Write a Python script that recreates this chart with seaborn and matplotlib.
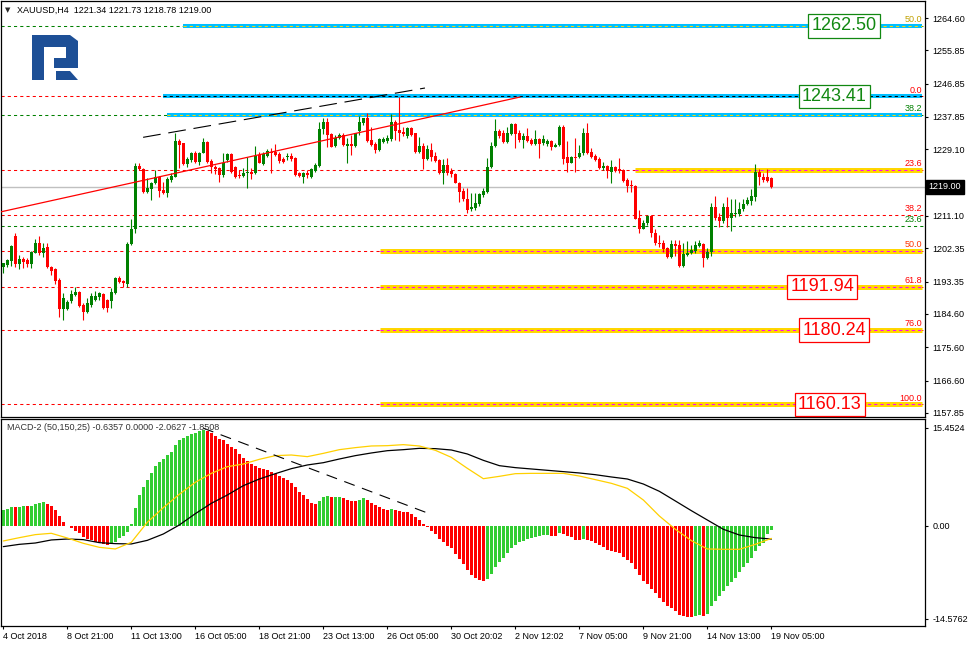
import numpy as np
import matplotlib
matplotlib.use("Agg")
import matplotlib.pyplot as plt
import matplotlib.transforms as mtransforms
from matplotlib.patches import Polygon
import seaborn as sns

# ---------------- data (XAUUSD H4) ----------------
candle_open = [
    1197.4, 1197.8, 1199.0, 1205.7, 1198.1, 1199.4, 1199.2, 1198.1, 1201.2, 1203.7,
    1201.2, 1202.6, 1197.4, 1196.7, 1193.8, 1185.9, 1186.0, 1188.2, 1189.7, 1190.6,
    1187.0, 1185.0, 1187.0, 1188.4, 1189.3, 1190.0, 1188.4, 1188.2, 1190.4, 1194.2,
    1193.5, 1192.6, 1203.5, 1207.5, 1224.6, 1223.7, 1217.7, 1218.3, 1220.1, 1221.5,
    1218.1, 1217.2, 1220.8, 1221.7, 1231.4, 1230.7, 1225.1, 1226.2, 1228.0, 1225.8,
    1228.2, 1231.1, 1226.0, 1224.4, 1224.0, 1222.2, 1226.2, 1227.8, 1224.4, 1222.2,
    1221.9, 1222.8, 1223.1, 1222.6, 1227.6, 1225.1, 1227.3, 1228.5, 1228.5, 1227.8,
    1226.4, 1226.9, 1227.3, 1226.7, 1222.6, 1221.5, 1222.6, 1221.5, 1223.3, 1224.6,
    1234.5, 1236.6, 1233.2, 1230.0, 1232.3, 1233.0, 1230.0, 1230.5, 1230.0, 1234.1,
    1236.1, 1237.7, 1231.6, 1230.5, 1228.9, 1231.2, 1231.4, 1231.8, 1236.6, 1234.3,
    1233.9, 1232.7, 1234.8, 1233.4, 1228.5, 1230.0, 1226.4, 1228.9, 1227.3, 1226.2,
    1222.8, 1224.9, 1223.3, 1222.4, 1220.1, 1217.9, 1215.8, 1212.9, 1213.2, 1214.3,
    1216.7, 1217.7, 1224.2, 1230.0, 1234.1, 1233.4, 1231.2, 1233.2, 1235.9, 1233.4,
    1231.6, 1232.7, 1231.6, 1230.5, 1231.8, 1230.7, 1230.5, 1231.4, 1229.8, 1230.3,
    1235.2, 1226.9, 1225.5, 1226.9, 1226.9, 1228.0, 1233.6, 1228.5, 1227.3, 1226.4,
    1224.0, 1224.6, 1223.1, 1224.2, 1223.7, 1223.5, 1220.8, 1219.4, 1219.2, 1210.5,
    1207.7, 1209.1, 1211.1, 1206.6, 1203.9, 1203.7, 1202.3, 1199.9, 1203.5, 1203.2,
    1197.6, 1200.5, 1201.0, 1201.7, 1203.0, 1203.5, 1199.6, 1201.4, 1213.6, 1210.9,
    1209.8, 1213.6, 1210.5, 1211.6, 1211.6, 1212.9, 1214.3, 1215.2, 1216.3, 1223.1,
    1221.7, 1221.5, 1221.34,
]
candle_high = [
    1198.5, 1199.4, 1203.2, 1206.4, 1200.5, 1200.1, 1199.6, 1201.7, 1205.0, 1205.7,
    1203.7, 1203.7, 1197.6, 1196.9, 1194.2, 1190.2, 1188.5, 1191.1, 1191.8, 1190.9,
    1187.6, 1188.8, 1190.2, 1190.9, 1190.6, 1190.4, 1188.6, 1191.5, 1194.7, 1194.9,
    1193.8, 1204.1, 1210.2, 1225.3, 1225.3, 1224.0, 1221.3, 1220.4, 1223.5, 1221.9,
    1220.4, 1221.7, 1222.6, 1233.4, 1231.8, 1230.9, 1227.1, 1228.5, 1228.7, 1228.5,
    1232.1, 1231.3, 1226.4, 1224.9, 1224.4, 1228.0, 1228.2, 1228.0, 1224.5, 1223.5,
    1224.0, 1227.1, 1224.0, 1230.0, 1228.5, 1228.5, 1229.1, 1229.4, 1230.5, 1228.5,
    1226.9, 1228.0, 1228.0, 1226.9, 1223.1, 1223.1, 1223.5, 1224.0, 1225.3, 1236.6,
    1237.5, 1237.5, 1233.6, 1233.0, 1233.6, 1233.4, 1232.1, 1233.0, 1233.6, 1238.1,
    1237.7, 1239.0, 1235.2, 1231.2, 1232.1, 1232.5, 1233.0, 1238.7, 1237.0, 1243.3,
    1235.2, 1235.2, 1235.2, 1233.6, 1232.5, 1230.7, 1230.3, 1230.7, 1228.5, 1226.4,
    1226.4, 1226.7, 1224.0, 1222.6, 1220.4, 1218.6, 1218.6, 1217.2, 1217.2, 1217.2,
    1218.6, 1226.7, 1231.2, 1237.2, 1234.5, 1234.3, 1235.2, 1236.3, 1236.3, 1234.3,
    1233.4, 1234.8, 1232.1, 1234.3, 1232.1, 1233.0, 1231.8, 1231.6, 1230.9, 1235.7,
    1235.7, 1231.4, 1227.3, 1232.3, 1230.3, 1235.0, 1236.3, 1229.4, 1227.8, 1226.9,
    1225.8, 1224.9, 1226.2, 1224.6, 1226.7, 1223.7, 1221.3, 1220.8, 1219.5, 1212.7,
    1210.0, 1211.4, 1211.4, 1207.7, 1205.9, 1204.6, 1202.8, 1204.6, 1204.6, 1204.6,
    1203.7, 1204.4, 1203.2, 1204.4, 1204.6, 1203.7, 1202.3, 1214.7, 1216.5, 1211.8,
    1214.5, 1216.1, 1215.6, 1215.6, 1214.9, 1215.6, 1216.3, 1218.3, 1225.1, 1223.7,
    1222.6, 1223.7, 1221.73,
]
candle_low = [
    1195.6, 1197.4, 1197.6, 1197.2, 1196.7, 1196.9, 1197.4, 1196.9, 1201.0, 1200.5,
    1199.9, 1197.0, 1195.1, 1192.7, 1183.9, 1183.0, 1185.7, 1187.6, 1189.4, 1186.4,
    1183.1, 1184.8, 1186.6, 1188.2, 1188.4, 1185.9, 1185.0, 1186.1, 1190.0, 1192.9,
    1192.0, 1192.0, 1203.2, 1206.4, 1223.5, 1217.4, 1217.4, 1215.4, 1219.7, 1216.1,
    1217.0, 1216.3, 1220.4, 1221.5, 1224.0, 1224.9, 1224.4, 1225.8, 1225.4, 1225.0,
    1228.0, 1225.3, 1222.6, 1222.4, 1220.4, 1221.7, 1225.8, 1222.6, 1221.3, 1221.3,
    1221.5, 1218.6, 1221.0, 1222.4, 1225.3, 1224.9, 1226.9, 1222.8, 1227.3, 1225.3,
    1225.3, 1226.2, 1226.0, 1221.9, 1221.5, 1219.9, 1221.3, 1221.3, 1223.1, 1224.4,
    1233.2, 1229.6, 1229.6, 1229.8, 1231.8, 1230.0, 1225.3, 1227.6, 1229.8, 1233.0,
    1235.7, 1231.2, 1230.0, 1228.0, 1228.7, 1230.7, 1230.9, 1231.4, 1231.6, 1231.4,
    1232.7, 1232.3, 1232.7, 1228.2, 1228.0, 1223.7, 1226.2, 1226.0, 1225.8, 1222.4,
    1219.7, 1222.2, 1221.7, 1219.9, 1215.0, 1215.2, 1211.8, 1212.3, 1212.7, 1213.8,
    1216.3, 1217.4, 1224.0, 1229.8, 1232.3, 1230.7, 1230.7, 1233.0, 1229.4, 1231.2,
    1229.4, 1231.2, 1230.3, 1230.3, 1226.7, 1230.3, 1230.0, 1228.9, 1229.6, 1230.0,
    1225.1, 1223.1, 1225.3, 1223.1, 1226.7, 1227.6, 1227.8, 1226.7, 1226.0, 1223.7,
    1223.5, 1221.3, 1219.9, 1223.1, 1222.6, 1220.4, 1217.7, 1217.7, 1210.2, 1206.4,
    1207.5, 1208.6, 1205.5, 1203.2, 1202.8, 1201.4, 1199.6, 1199.6, 1200.3, 1197.2,
    1197.4, 1200.3, 1200.8, 1201.2, 1202.6, 1197.4, 1199.4, 1200.3, 1210.0, 1208.0,
    1209.3, 1208.2, 1207.1, 1210.9, 1211.1, 1212.5, 1214.1, 1214.1, 1215.2, 1219.5,
    1220.4, 1220.4, 1218.78,
]
candle_close = [
    1198.3, 1199.2, 1203.0, 1198.1, 1199.4, 1198.7, 1198.1, 1201.4, 1203.7, 1201.2,
    1202.4, 1197.2, 1196.3, 1193.6, 1185.9, 1188.8, 1187.9, 1190.0, 1190.6, 1186.8,
    1185.0, 1187.5, 1189.5, 1189.5, 1190.2, 1186.1, 1186.1, 1190.6, 1194.2, 1193.3,
    1192.9, 1203.5, 1207.5, 1224.6, 1223.7, 1217.7, 1218.6, 1220.1, 1221.5, 1217.8,
    1217.4, 1221.0, 1221.9, 1231.4, 1230.3, 1225.1, 1226.4, 1228.0, 1225.8, 1228.2,
    1231.1, 1225.7, 1224.4, 1223.7, 1222.2, 1225.5, 1227.8, 1223.1, 1221.7, 1221.9,
    1222.8, 1223.1, 1222.4, 1227.3, 1225.5, 1227.8, 1228.7, 1228.0, 1227.6, 1226.0,
    1225.8, 1227.3, 1226.4, 1222.2, 1221.9, 1222.6, 1222.2, 1223.7, 1224.9, 1234.5,
    1236.6, 1233.0, 1229.8, 1232.3, 1233.0, 1230.3, 1230.5, 1230.0, 1233.4, 1236.6,
    1237.5, 1231.4, 1230.3, 1228.9, 1231.8, 1231.8, 1232.3, 1236.6, 1234.1, 1233.6,
    1233.2, 1234.8, 1233.0, 1228.5, 1230.0, 1226.4, 1229.1, 1226.9, 1226.0, 1222.8,
    1224.9, 1222.8, 1222.4, 1220.1, 1217.7, 1215.6, 1212.7, 1213.4, 1214.5, 1217.0,
    1217.9, 1224.2, 1230.0, 1234.1, 1232.7, 1231.2, 1233.4, 1235.9, 1233.2, 1231.6,
    1232.7, 1231.4, 1230.5, 1231.8, 1230.5, 1231.8, 1231.4, 1229.8, 1230.3, 1235.2,
    1226.4, 1225.5, 1226.9, 1226.7, 1228.2, 1233.6, 1228.2, 1226.9, 1226.2, 1224.0,
    1224.6, 1223.3, 1224.2, 1223.3, 1223.3, 1220.6, 1219.2, 1219.2, 1210.4, 1207.7,
    1209.1, 1211.1, 1206.4, 1203.7, 1203.5, 1202.1, 1199.9, 1203.5, 1203.0, 1197.6,
    1200.8, 1201.0, 1201.9, 1203.2, 1203.7, 1199.6, 1201.4, 1213.6, 1210.5, 1209.8,
    1213.6, 1210.5, 1211.8, 1212.0, 1212.9, 1214.3, 1215.4, 1216.5, 1223.1, 1221.5,
    1220.8, 1220.6, 1219.00,
]

# MACD-2 histogram, one bar per candle
macd_hist = [
    2.52, 2.62, 2.99, 2.95, 2.99, 3.15, 3.10, 3.20, 3.41, 3.57,
    3.73, 3.41, 3.15, 2.52, 1.63, 0.68, -0.05, -0.26, -0.79, -1.15,
    -1.68, -2.10, -2.26, -2.52, -2.57, -2.83, -2.94, -2.62, -2.47, -1.94,
    -1.57, -0.94, 0.37, 2.78, 4.88, 6.19, 7.19, 8.29, 9.40, 10.03,
    10.55, 11.18, 11.71, 12.76, 13.54, 13.91, 14.23, 14.44, 14.65, 14.96,
    15.12, 15.01, 14.59, 14.17, 13.65, 13.49, 12.97, 12.39, 12.07, 11.34,
    10.76, 10.29, 9.82, 9.50, 9.08, 8.92, 8.82, 8.45, 8.14, 7.87,
    7.61, 7.24, 6.72, 6.19, 5.41, 4.88, 4.25, 3.67, 3.41, 3.94,
    4.62, 4.72, 4.57, 4.60, 4.63, 4.41, 4.09, 3.94, 3.90, 4.09,
    4.41, 4.09, 3.62, 3.31, 2.99, 2.68, 2.52, 2.68, 2.52, 2.36,
    2.20, 2.15, 1.89, 1.42, 0.94, 0.37, -0.21, -0.73, -1.21, -1.99,
    -2.47, -3.10, -3.52, -4.36, -5.14, -5.93, -6.88, -7.72, -8.14, -8.45,
    -8.61, -8.29, -7.51, -6.40, -5.62, -4.99, -4.30, -3.41, -2.94, -2.57,
    -2.31, -1.99, -1.84, -1.68, -1.57, -1.47, -1.36, -1.52, -1.55, -1.10,
    -1.26, -1.52, -1.78, -2.20, -2.26, -1.99, -2.20, -2.31, -2.62, -2.99,
    -3.36, -3.73, -3.88, -4.09, -4.25, -4.83, -5.30, -5.77, -6.72, -7.72,
    -8.61, -9.13, -9.87, -10.50, -11.29, -11.92, -12.55, -12.97, -13.33, -13.96,
    -14.12, -14.28, -14.30, -14.12, -14.02, -14.20, -13.81, -12.55, -11.76, -11.02,
    -10.18, -9.40, -8.87, -8.14, -7.30, -6.51, -5.77, -4.99, -3.88, -3.15,
    -2.62, -1.21, -0.64,
]
# MACD lines, read every 4th candle
macd_line_idx = list(range(0, 193, 4))
macd_black = [
    -3.25, -2.89, -2.68, -2.20, -2.05, -2.15, -2.62, -2.78, -2.83, -2.26,
    -1.26, 0.16, 1.94, 3.57, 4.88, 6.35, 7.40, 8.24, 9.03, 9.61,
    9.97, 10.55, 11.08, 11.50, 11.86, 12.02, 12.23, 12.18, 11.97, 11.34,
    10.34, 9.50, 9.19, 8.98, 8.77, 8.56, 8.35, 8.08, 7.72, 7.40,
    6.61, 5.46, 3.94, 2.41, 0.94, -0.52, -1.42, -1.84, -2.06,
]
macd_yellow = [
    -2.36, -1.84, -1.36, -1.15, -1.89, -2.73, -3.36, -3.62, -2.57, 0.58,
    2.89, 4.99, 6.88, 8.29, 9.34, 9.76, 10.50, 11.08, 11.18, 10.92,
    11.44, 12.02, 12.34, 12.60, 12.65, 12.81, 12.60, 11.92, 10.81, 9.08,
    7.45, 7.82, 8.24, 8.29, 8.29, 8.29, 7.87, 7.30, 6.72, 5.93,
    4.09, 1.57, -0.52, -2.31, -3.62, -3.67, -3.67, -2.89, -1.95,
]

# Fibonacci levels
fib_price = [1262.50, 1243.41, 1238.40, 1223.50, 1211.35, 1208.40, 1201.60, 1191.94, 1180.24, 1160.13]
fib_tag = ["50.0", "0.0", "38.2", "23.6", "38.2", "23.6", "50.0", "61.8", "76.0", "100.0"]
fib_start = [44.9, 39.9, 40.9, 157.9, None, None, 94.2, 94.2, 94.2, 94.2]

boxed_price = [1262.50, 1243.41, 1191.94, 1180.24, 1160.13]
boxed_label = ["1262.50", "1243.41", "1191.94", "1180.24", "1160.13"]

trend_red_x, trend_red_y = [-0.8, 129.2], [1212.16, 1243.25]
trend_blk_x, trend_blk_y = [34.95, 105.4], [1232.35, 1245.68]
macd_trend_x, macd_trend_y = [49.9, 106.7], [15.43, 1.89]

last_price = 1219.00
# 1220.10 sits under the black last-price box, so its label is not drawn
price_ticks = ["1264.60", "1255.85", "1246.85", "1237.85", "1229.10", "1211.10",
               "1202.35", "1193.35", "1184.60", "1175.60", "1166.60", "1157.85"]
macd_ticks = ["15.4524", "0.00", "-14.5762"]
date_labels = ["4 Oct 2018", "8 Oct 21:00", "11 Oct 13:00", "16 Oct 05:00", "18 Oct 21:00",
               "23 Oct 13:00", "26 Oct 05:00", "30 Oct 20:02", "2 Nov 12:02", "7 Nov 05:00",
               "9 Nov 21:00", "14 Nov 13:00", "19 Nov 05:00"]

# ---------------- styles ----------------
GREEN = "#008000"
RED = "#ff0000"
BLUE = "#00bfff"
GOLD = "#ffd700"
MAGENTA = "#ff00ff"
line_col = [GREEN, RED, GREEN, RED, RED, GREEN, RED, RED, RED, RED]
tag_col = ["#c0a000", RED, GREEN, RED, RED, GREEN, "#ff3300", RED, RED, RED]
band_col = [BLUE, BLUE, BLUE, GOLD, None, None, GOLD, GOLD, GOLD, GOLD]
inner_col = [GOLD, "black", GOLD, MAGENTA, None, None, MAGENTA, MAGENTA, MAGENTA, MAGENTA]
box_x = [210.2, 207.7, 204.7, 207.7, 206.6]
box_col = ["#118811", "#118811", RED, RED, RED]

sns.set_style("white")
plt.rcParams['font.family'] = ['Liberation Sans', 'DejaVu Sans']

W, H = 968, 647
fig = plt.figure(figsize=(W / 100, H / 100), dpi=100)


def frac(x0, y0, x1, y1):
    return [x0 / W, 1 - y1 / H, (x1 - x0) / W, (y1 - y0) / H]


ax = fig.add_axes(frac(1, 1, 925, 417))
ax2 = fig.add_axes(frac(1, 419, 925, 626))
XL = (-0.575, 230.4)
XR = 229.7

for a in (ax, ax2):
    a.set_xlim(*XL)
    for s in a.spines.values():
        s.set_color("black")
        s.set_linewidth(0.9)
    a.yaxis.tick_right()
    a.tick_params(axis="y", direction="out", length=2.5, width=0.8, pad=3,
                  labelsize=6.5, colors="black")

ax.set_ylim(1156.75, 1269.20)
ax2.set_ylim(-15.75, 16.85)

# ---------------- main price panel ----------------
ax.axhline(last_price, color="#c0c0c0", lw=1.0, zorder=1)

for p, lc, start, bc, ic, tag, tc in zip(fib_price, line_col, fib_start, band_col,
                                         inner_col, fib_tag, tag_col):
    ax.axhline(p, color=lc, lw=0.75, dashes=(3, 3), zorder=1.2)
    if start is not None:
        lw_band = 2.9 if bc == BLUE else 3.6
        ax.hlines(p, start, XR, color=bc, lw=lw_band, zorder=1.4)
        ax.hlines(p, start, XR, color=ic, lw=0.75, linestyles=(0, (3, 3)), zorder=1.5)
    ax.text(XR, p + 0.5, tag, ha="right", va="bottom", fontsize=6.5, color=tc, zorder=6)

x = np.arange(len(candle_close))
o = np.array(candle_open)
h = np.array(candle_high)
l = np.array(candle_low)
c = np.array(candle_close)
ccol = np.where(c >= o, GREEN, RED)
ax.vlines(x, l, h, colors=ccol, lw=0.8, zorder=3)
ax.bar(x, np.maximum(np.abs(c - o), 0.2), bottom=np.minimum(o, c), width=0.75,
       color=ccol, linewidth=0, zorder=3)

ax.plot(trend_red_x, trend_red_y, color=RED, lw=0.9, zorder=4)
ax.plot(trend_blk_x, trend_blk_y, color="black", lw=0.8, dashes=(16, 7), zorder=4)

for bx, bp, bl, bc in zip(box_x, boxed_price, boxed_label, box_col):
    ax.text(bx, bp, bl, ha="center", va="center", fontsize=13, color=bc, zorder=7,
            bbox=dict(boxstyle="square,pad=0.18", fc="white", ec=bc, lw=0.9))

ax.set_yticks([float(t) for t in price_ticks])
ax.set_yticklabels(price_ticks)
ax.set_xticks([])

trans = mtransforms.blended_transform_factory(ax.transAxes, ax.transData)
ax.text(1.004, last_price, "1219.00", transform=trans, ha="left", va="center",
        fontsize=6.5, color="white", clip_on=False, zorder=10,
        bbox=dict(boxstyle="square,pad=0.3", fc="black", ec="black"))

# ---------------- MACD panel ----------------
hist_col = ["#32cd32"] + ["#32cd32" if b > a else RED
                          for a, b in zip(macd_hist[:-1], macd_hist[1:])]
ax2.bar(x, macd_hist, width=0.75, color=hist_col, linewidth=0, zorder=2)
sns.lineplot(x=macd_line_idx, y=macd_black, ax=ax2, color="black", lw=0.9, zorder=3)
sns.lineplot(x=macd_line_idx, y=macd_yellow, ax=ax2, color="#ffd000", lw=0.9, zorder=3)
ax2.plot(macd_trend_x, macd_trend_y, color="black", lw=0.8, dashes=(10, 7), zorder=4)

ax2.set_yticks([15.4524, 0.0, -14.5762])
ax2.set_yticklabels(macd_ticks)
ax2.set_xticks(np.arange(0, 193, 16))
ax2.set_xticklabels(date_labels, ha="left")
ax2.tick_params(axis="x", direction="out", length=2.5, width=0.8, pad=2,
                labelsize=6.5, colors="black", bottom=True)
ax2.set_xlabel("")
ax2.set_ylabel("")

# ---------------- headers ----------------
fig.text(5 / W, 1 - 10 / H, "▼", fontsize=5, va="center", ha="left",
         family=["DejaVu Sans"])
fig.text(17 / W, 1 - 10 / H, "XAUUSD,H4  1221.34 1221.73 1218.78 1219.00",
         fontsize=6.5, va="center", ha="left", color="black")
fig.text(7 / W, 1 - 428 / H, "MACD-2 (50,150,25) -0.6357 0.0000 -2.0627 -1.8508",
         fontsize=6.5, va="center", ha="left", color="#333333", zorder=10)

# ---------------- logo ----------------
lg = fig.add_axes(frac(32, 35, 78, 80))
lg.set_xlim(0, 46)
lg.set_ylim(45, 0)
lg.axis("off")
logo_blue = "#1d4f96"
lg.add_patch(Polygon([(0, 0), (38, 0), (46, 6), (46, 33), (22, 33), (22, 23),
                      (34, 23), (34, 12), (12, 12), (12, 45), (0, 45)],
                     closed=True, fc=logo_blue, ec="none"))
lg.add_patch(Polygon([(24, 36), (38, 36), (46, 45), (24, 45)],
                     closed=True, fc=logo_blue, ec="none"))

fig.savefig("out.png", dpi=100)
